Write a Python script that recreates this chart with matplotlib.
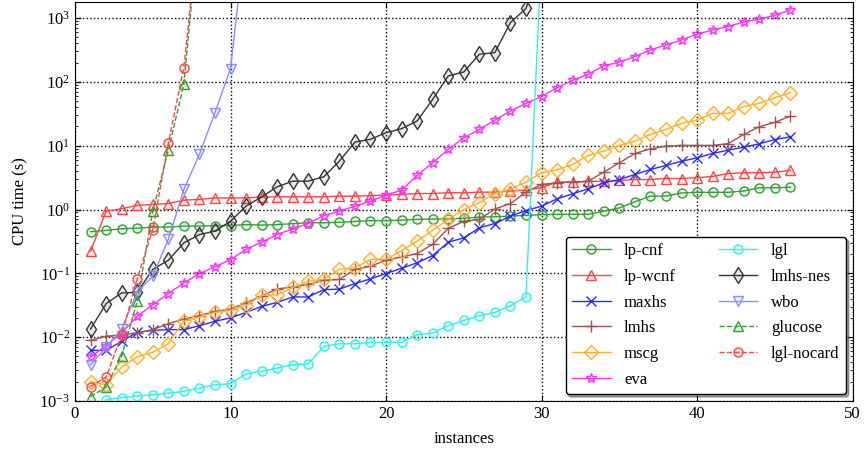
import matplotlib
matplotlib.use("Agg")
import matplotlib.pyplot as plt
from matplotlib.colors import to_rgba

plt.rcParams['font.family'] = ['Liberation Serif', 'DejaVu Serif']
plt.rcParams['mathtext.fontset'] = 'stix'

# ---- data (CPU time in seconds, sorted per solver) ----
lp_cnf = [0.45, 0.47, 0.50, 0.51, 0.53, 0.53, 0.55, 0.55, 0.56, 0.56, 0.58,
          0.57, 0.58, 0.60, 0.62, 0.62, 0.63, 0.65, 0.67, 0.67, 0.68, 0.70, 0.71, 0.71,
          0.73, 0.76, 0.77, 0.79, 0.81, 0.83,
          0.84, 0.84, 0.84, 0.94, 1.06, 1.32, 1.62, 1.62, 1.82, 1.86, 1.86, 1.86,
          1.95, 2.19, 2.19, 2.24]
lp_wcnf = [0.222, 0.94, 1.03, 1.16, 1.2, 1.24, 1.4, 1.44, 1.52, 1.52, 1.52,
           1.56, 1.58, 1.58, 1.58, 1.58, 1.62, 1.62, 1.65, 1.68,
           1.72, 1.78, 1.78, 1.83, 1.83, 1.87, 1.87, 1.94, 2.01, 2.2,
           2.7, 2.7, 2.75, 2.78, 2.85, 2.95, 2.95, 3.06, 3.06, 3.14, 3.3, 3.66,
           3.76, 3.76, 3.85, 4.1]
maxhs = [0.0062, 0.0062, 0.0086, 0.0119, 0.0127, 0.0131, 0.0131, 0.0151, 0.0177, 0.020, 0.0244,
         0.0303, 0.035, 0.0426, 0.0426, 0.0555, 0.0565, 0.0689, 0.0817, 0.099, 0.12,
         0.146, 0.19, 0.307, 0.359, 0.516, 0.603, 0.785, 0.964, 1.13,
         1.47, 1.76, 2.11, 2.62, 2.95, 3.54, 4.24, 4.9, 5.7, 6.46, 7.55, 8.5,
         9.5, 10.7, 12.5, 13.8]
lmhs = [0.0089, 0.0103, 0.0109, 0.0116, 0.0131, 0.0162, 0.0192, 0.0217, 0.0253, 0.0276, 0.0343,
        0.044, 0.057, 0.061, 0.067, 0.078, 0.080, 0.115, 0.129, 0.16,
        0.181, 0.204, 0.285, 0.505, 0.656, 0.70, 1.02, 1.24, 1.87, 2.47,
        2.62, 2.68, 2.78, 3.85, 5.38, 7.55, 8.93, 9.84, 10.1, 10.1, 10.1, 10.8,
        15.0, 19.8, 23.3, 29.0]
mscg = [0.0020, 0.0018, 0.0034, 0.0049, 0.0058, 0.0079, 0.0177, 0.0207, 0.0244, 0.0263, 0.0311,
        0.045, 0.046, 0.060, 0.075, 0.081, 0.115, 0.122, 0.165, 0.167,
        0.225, 0.32, 0.47, 0.70, 1.0, 1.28, 1.78, 2.11, 2.68, 3.77,
        4.2, 5.08, 7.05, 8.22, 10.1, 11.8, 15.0, 18.0, 22.4, 25.2, 32.1, 32.1,
        41.0, 46.1, 56.6, 67.9]
eva = [0.00487, 0.00733, 0.0116, 0.0211, 0.0323, 0.048, 0.0706, 0.099,
       0.126, 0.164, 0.238,
       0.307, 0.405, 0.498, 0.603, 0.805, 0.94, 1.13, 1.35,
       1.69, 2.01, 3.42, 5.41, 8.75, 13.3, 18.0, 25.2, 34.9, 46.1, 58.8,
       81.3, 106, 132, 178, 205, 249, 317, 380, 455, 558, 653, 738, 871, 961, 1110, 1345]
lgl = [0.00104, 0.00113, 0.0012, 0.00125, 0.00132, 0.00141, 0.00159, 0.00179, 0.00186, 0.00266,
       0.0029, 0.00327, 0.00369, 0.00382, 0.00714, 0.00787, 0.00787, 0.00826, 0.00826, 0.0083,
       0.0109, 0.0116, 0.0151, 0.0183, 0.0217, 0.0244, 0.0311, 0.0426, 11000]
lgl_x = list(range(2, 31))
lmhs_nes = [0.0134, 0.0334, 0.0492, 0.0503, 0.115, 0.16, 0.30, 0.405, 0.457, 0.656, 1.13,
            1.57, 2.27, 2.78, 2.78, 3.26, 5.73, 11.4, 12.6, 16.0, 18.5, 24.4, 53.3, 124, 143,
            271, 288, 853, 1415, 9000]
wbo = [0.0037, 0.0069, 0.0133, 0.051, 0.09, 0.34, 2.06, 7.3, 33, 162, 23000]
glucose = [0.00117, 0.00165, 0.0051, 0.0363, 0.94, 8.5, 92, 35000]
lgl_nocard = [0.00168, 0.00236, 0.0109, 0.0817, 0.485, 10.9, 168, 35000]

series = [
    ("lp-cnf", None, lp_cnf, '#33a033', 'o', '-', 6.5),
    ("lp-wcnf", None, lp_wcnf, '#ff4545', '^', '-', 7.5),
    ("maxhs", None, maxhs, '#2b2bff', 'x', '-', 7.5),
    ("lmhs", None, lmhs, '#a85050', '+', '-', 8),
    ("mscg", None, mscg, '#ffb030', 'D', '-', 7),
    ("eva", None, eva, '#ff30ff', '*', '-', 7.5),
    ("lgl", lgl_x, lgl, '#30f0f0', 'o', '-', 6.5),
    ("lmhs-nes", None, lmhs_nes, '#333333', 'd', '-', 8.5),
    ("wbo", None, wbo, '#8c8cff', 'v', '-', 7.5),
    ("glucose", None, glucose, '#33a033', '^', '--', 7.5),
    ("lgl-nocard", None, lgl_nocard, '#ff4545', 'o', '--', 6.5),
]

fig = plt.figure(figsize=(8.64, 4.53), dpi=100)
ax = fig.add_axes([0.0868, 0.115, 0.9, 0.881])

for name, xs, ys, col, mk, ls, ms in series:
    if xs is None:
        xs = list(range(1, len(ys) + 1))
    fc = to_rgba(col, 0.12) if mk not in ('x', '+') else col
    ax.plot(xs, ys, linestyle=ls, color=col, marker=mk, markersize=ms,
            markerfacecolor=fc, markeredgecolor=col, markeredgewidth=1.0,
            linewidth=1.0, label=name)

ax.set_yscale('log')
ax.set_xlim(0, 50)
ax.set_ylim(1e-3, 1.8e3)
ax.set_xticks([0, 10, 20, 30, 40, 50])
ax.grid(True, which='major', linestyle=':', color='black', linewidth=1.0)
ax.tick_params(which='both', direction='in', top=True, right=True, labelsize=12)
ax.tick_params(which='major', length=4)
ax.tick_params(which='minor', length=2)
ax.set_xlabel('instances', fontsize=12, labelpad=7)
ax.set_ylabel('CPU time (s)', fontsize=12, labelpad=8)

leg = ax.legend(loc='lower right', ncol=2, fontsize=12, handlelength=2.3,
                labelspacing=0.58, columnspacing=2.6, borderaxespad=0.4,
                fancybox=True, shadow=True, framealpha=1.0, edgecolor='black')
leg.get_frame().set_linewidth(1.0)

fig.savefig('out.png', dpi=100)
